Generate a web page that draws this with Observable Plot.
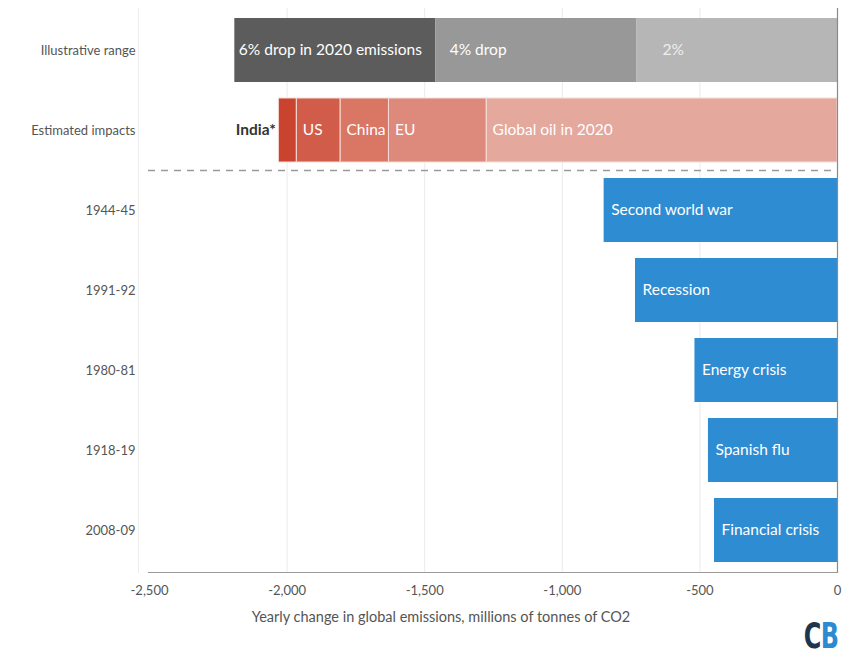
<!DOCTYPE html>
<html><head><meta charset="utf-8">
<script src="https://cdn.jsdelivr.net/npm/d3@7"></script>
<script src="https://cdn.jsdelivr.net/npm/@observablehq/plot@0.6"></script>
<style>
body{margin:0;background:#fff;}
#wrap{position:relative;width:843px;height:658px;font-family:Lato,"Open Sans",sans-serif;overflow:hidden;}
#logo{position:absolute;right:5px;top:616px;font-family:"DejaVu Sans Condensed","DejaVu Sans",sans-serif;font-weight:bold;font-size:35px;line-height:normal;transform:scaleX(0.76);transform-origin:100% 0;letter-spacing:-1px;white-space:nowrap;}
</style></head><body><div id="wrap"><div id="logo"><span style="color:#1e3550">C</span><span style="color:#2b8bd1">B</span></div></div>
<script>
const rows = ["Illustrative range","Estimated impacts","1944-45","1991-92","1980-81","1918-19","2008-09"];
const rangeLabels = ["6% drop in 2020 emissions","4% drop","2%"];
const rangeValues = [-2190,-1460,-730];           // cumulative drop
const impactLabels = ["Global oil in 2020","EU","China","US","India*"];
const impactValues = [-1275,-355,-176,-159,-65];  // contributions, stacked from 0
const eventYears = ["1944-45","1991-92","1980-81","1918-19","2008-09"];
const eventLabels = ["Second world war","Recession","Energy crisis","Spanish flu","Financial crisis"];
const eventValues = [-848,-734,-518,-469,-447];
const xTicks = [-2500,-2000,-1500,-1000,-500,0];
const gridTicks = [-2000,-1500,-1000,-500];
const axisTitle = "Yearly change in global emissions, millions of tonnes of CO2";

const rangeColors = ["#5c5c5c","#989898","#b6b6b6"];
const impactColors = ["#e4a89d","#dd8a7d","#d97664","#d25c4a","#c9432f"];
const blue = "#2e8cd2";

const rangeSegs = rangeLabels.map((label,i)=>({row:rows[0],label,x1:rangeValues[i],x2:i+1<rangeValues.length?rangeValues[i+1]:0,fill:rangeColors[i]}));
let acc = 0;
const impactSegs = impactLabels.map((label,i)=>{const s={row:rows[1],label,x2:acc,x1:acc+impactValues[i],fill:impactColors[i]};acc=s.x1;return s;});
const eventSegs = eventLabels.map((label,i)=>({row:eventYears[i],label,x1:eventValues[i],x2:0,fill:blue}));

const fs = 15.5;
const chart = Plot.plot({
  width:843, height:658, marginTop:8, marginBottom:86, marginLeft:138, marginRight:6,
  x:{domain:[-2540,0]},
  y:{domain:rows, range:[0.7,580.3], padding:0.2},
  color:{type:"identity"},
  style:{fontFamily:"Lato, 'Open Sans', sans-serif", background:"transparent"},
  marks:[
    Plot.ruleX(gridTicks, {stroke:"#ebebeb"}),
    Plot.frame({anchor:"left", stroke:"#ececec"}),
    Plot.barX(rangeSegs, {x1:"x1", x2:"x2", y:"row", fill:"fill"}),
    Plot.barX(impactSegs, {x1:"x1", x2:"x2", y:"row", fill:"fill", stroke:"#f6ddd8", strokeWidth:1}),
    Plot.barX(eventSegs, {x1:"x1", x2:"x2", y:"row", fill:"fill"}),
    Plot.ruleY([eventYears[0]], {dy:-40, insetLeft:10, stroke:"#9a9a9a", strokeWidth:1.5, strokeDasharray:"7,6"}),
    Plot.ruleX([0], {stroke:"#8a8a8a", strokeWidth:1.2}),
    Plot.frame({anchor:"bottom", stroke:"#9a9a9a", strokeWidth:1.2, insetLeft:10}),
    Plot.text(rangeSegs.filter((d,i)=>i===0), {x:"x1", y:"row", text:"label", textAnchor:"start", dx:4, fill:"#ffffff", fontSize:fs}),
    Plot.text(rangeSegs.filter((d,i)=>i===1), {x:"x1", y:"row", text:"label", textAnchor:"start", dx:14, fill:"#ffffff", fontSize:fs}),
    Plot.text(rangeSegs.filter((d,i)=>i===2), {x:"x1", y:"row", text:"label", textAnchor:"start", dx:26, fill:"#eeeeee", fontSize:fs}),
    Plot.text(impactSegs.filter(d=>d.label!=="India*"), {x:"x1", y:"row", text:"label", textAnchor:"start", dx:6, fill:"#ffffff", fontSize:fs}),
    Plot.text(impactSegs.filter(d=>d.label==="India*"), {x:"x1", y:"row", text:"label", textAnchor:"end", dx:-3, fill:"#333333", fontSize:fs, fontWeight:"bold"}),
    Plot.text(eventSegs, {x:"x1", y:"row", text:"label", textAnchor:"start", dx:7, fill:"#ffffff", fontSize:fs}),
    Plot.axisX(xTicks, {tickSize:0, tickPadding:13, fontSize:13, fill:"#555", label:null, tickFormat:d=>d.toLocaleString("en-US")}),
    Plot.axisY({tickSize:0, tickPadding:3, fontSize:13, fill:"#555", label:null}),
    Plot.text([axisTitle], {frameAnchor:"bottom", dy:49, dx:-47, fontSize:14.5, fill:"#555"})
  ]
});
document.getElementById("wrap").prepend(chart);
</script></body></html>
